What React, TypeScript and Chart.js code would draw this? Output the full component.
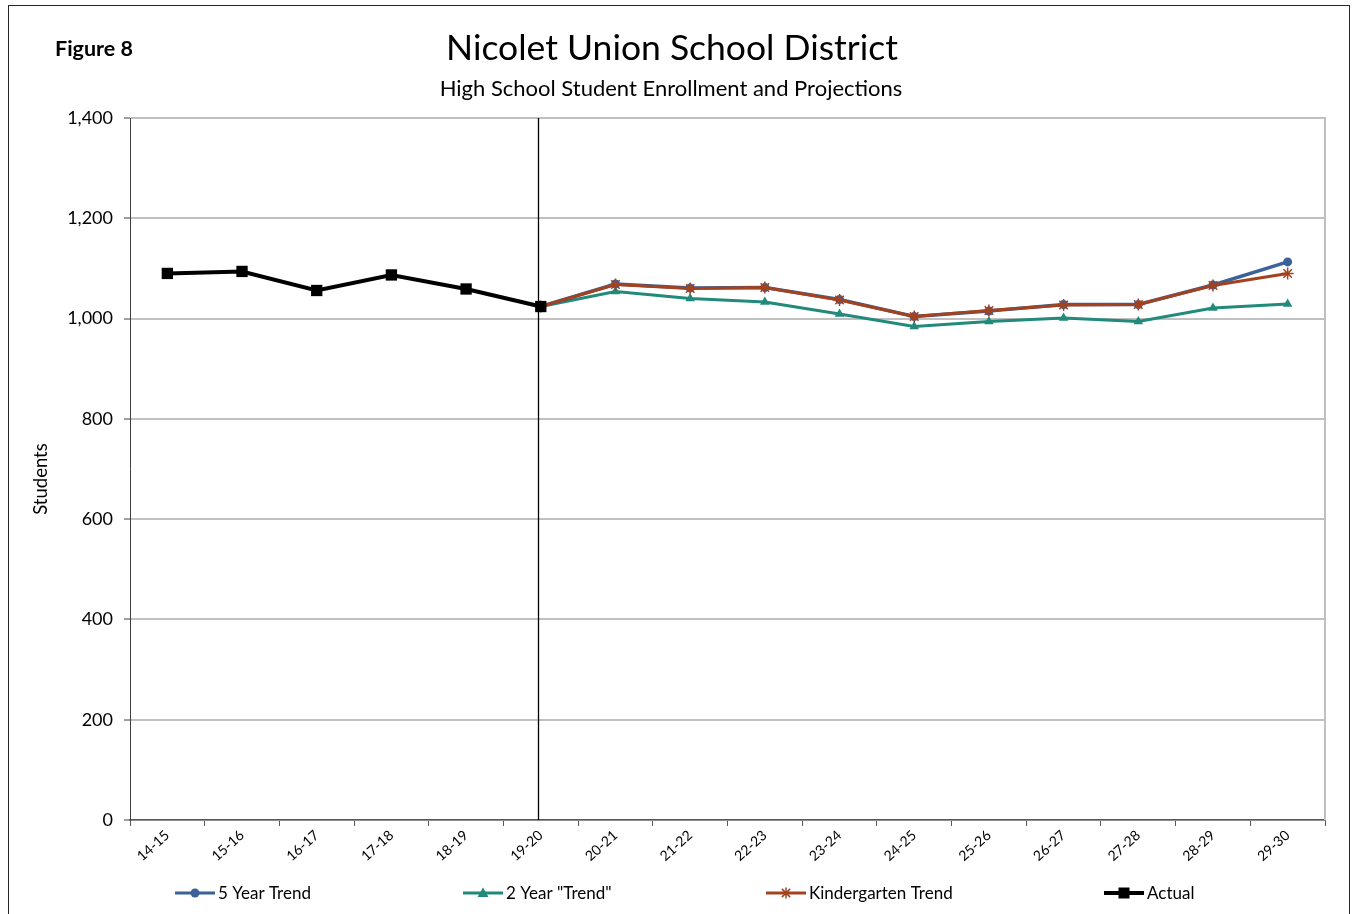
import React, { useEffect, useRef } from "react";
import { Chart, registerables } from "chart.js";

Chart.register(...registerables);

const categories = ["14-15", "15-16", "16-17", "17-18", "18-19", "19-20", "20-21", "21-22", "22-23", "23-24", "24-25", "25-26", "26-27", "27-28", "28-29", "29-30"];
const actual = [1090, 1094, 1056, 1087, 1059, 1024, null, null, null, null, null, null, null, null, null, null];
const fiveYearTrend = [null, null, null, null, null, 1024, 1069, 1061, 1062, 1038, 1004, 1015, 1028, 1028, 1067, 1113];
const twoYearTrend = [null, null, null, null, null, 1024, 1054, 1040, 1033, 1009, 984, 994, 1001, 994, 1021, 1029];
const kindergartenTrend = [null, null, null, null, null, 1024, 1068, 1060, 1062, 1037, 1004, 1016, 1027, 1028, 1066, 1090];
const yTicks = [0, 200, 400, 600, 800, 1000, 1200, 1400];

const FONT = "Lato, 'Open Sans', sans-serif";
const BLUE = "#3b6198";
const TEAL = "#228a7b";
const RUST = "#a3421f";
const BLACK = "#000000";

type LegendItem = { label: string; color: string; marker: string; width: number; x: number };
const legendItems: LegendItem[] = [
  { label: "5 Year Trend", color: BLUE, marker: "circle", width: 3, x: 175 },
  { label: '2 Year "Trend"', color: TEAL, marker: "triangle", width: 3, x: 463 },
  { label: "Kindergarten Trend", color: RUST, marker: "star", width: 3, x: 766 },
  { label: "Actual", color: BLACK, marker: "rect", width: 4, x: 1104 },
];

function drawMarker(ctx: CanvasRenderingContext2D, kind: string, x: number, y: number, color: string) {
  ctx.save();
  ctx.fillStyle = color;
  ctx.strokeStyle = color;
  ctx.beginPath();
  if (kind === "circle") {
    ctx.arc(x, y, 4.5, 0, Math.PI * 2);
    ctx.fill();
  } else if (kind === "triangle") {
    ctx.moveTo(x, y - 5.5);
    ctx.lineTo(x + 5.5, y + 4);
    ctx.lineTo(x - 5.5, y + 4);
    ctx.closePath();
    ctx.fill();
  } else if (kind === "rect") {
    ctx.rect(x - 5.5, y - 5.5, 11, 11);
    ctx.fill();
  } else if (kind === "star") {
    ctx.lineWidth = 1.5;
    const r = 5.5;
    ctx.moveTo(x - r, y);
    ctx.lineTo(x + r, y);
    ctx.moveTo(x, y - r);
    ctx.lineTo(x, y + r);
    const d = r * 0.75;
    ctx.moveTo(x - d, y - d);
    ctx.lineTo(x + d, y + d);
    ctx.moveTo(x - d, y + d);
    ctx.lineTo(x + d, y - d);
    ctx.stroke();
  }
  ctx.restore();
}

const decorPlugin = {
  id: "decor",
  beforeDraw(chart: any) {
    const ctx = chart.ctx as CanvasRenderingContext2D;
    ctx.save();
    ctx.fillStyle = "#ffffff";
    ctx.fillRect(0, 0, chart.width, chart.height);
    ctx.restore();
  },
  beforeDatasetsDraw(chart: any) {
    const ctx = chart.ctx as CanvasRenderingContext2D;
    const area = chart.chartArea;
    const x = chart.scales.x;
    ctx.save();
    ctx.strokeStyle = "#c0c0c0";
    ctx.lineWidth = 2;
    ctx.beginPath();
    ctx.moveTo(area.right, area.top - 1);
    ctx.lineTo(area.right, area.bottom);
    ctx.stroke();
    const px = Math.round(x.getPixelForValue(5)) - 3 + 0.5;
    ctx.strokeStyle = "#000000";
    ctx.lineWidth = 1.3;
    ctx.beginPath();
    ctx.moveTo(px, area.top);
    ctx.lineTo(px, area.bottom);
    ctx.stroke();
    ctx.restore();
  },
  afterDraw(chart: any) {
    const ctx = chart.ctx as CanvasRenderingContext2D;
    const area = chart.chartArea;
    ctx.save();
    ctx.strokeStyle = "#262626";
    ctx.lineWidth = 1;
    ctx.strokeRect(8.5, 5.5, 1341, 920);
    ctx.fillStyle = "#000000";
    ctx.textBaseline = "middle";
    ctx.textAlign = "left";
    ctx.font = `bold 21.5px ${FONT}`;
    ctx.fillText("Figure 8", 55, 49);
    ctx.textAlign = "center";
    ctx.font = `35.5px ${FONT}`;
    ctx.fillText("Nicolet Union School District", 672, 49);
    ctx.font = `22px ${FONT}`;
    ctx.fillText("High School Student Enrollment and Projections", 671, 89);
    ctx.save();
    ctx.translate(41, (area.top + area.bottom) / 2 + 10);
    ctx.rotate(-Math.PI / 2);
    ctx.font = `18.5px ${FONT}`;
    ctx.fillText("Students", 0, 0);
    ctx.restore();
    const ly = 893;
    for (const item of legendItems) {
      ctx.strokeStyle = item.color;
      ctx.lineWidth = item.width;
      ctx.beginPath();
      ctx.moveTo(item.x, ly);
      ctx.lineTo(item.x + 40, ly);
      ctx.stroke();
      drawMarker(ctx, item.marker, item.x + 20, ly, item.color);
      ctx.fillStyle = "#000000";
      ctx.textAlign = "left";
      ctx.font = `17px ${FONT}`;
      ctx.fillText(item.label, item.x + 43, ly + 1);
    }
    ctx.restore();
  },
};

export default function App() {
  const ref = useRef<HTMLCanvasElement | null>(null);
  useEffect(() => {
    if (!ref.current) return;
    const chart = new Chart(ref.current, {
      type: "line",
      data: {
        labels: categories,
        datasets: [
          {
            label: "Actual",
            data: actual,
            borderColor: BLACK,
            backgroundColor: BLACK,
            borderWidth: 4,
            pointStyle: "rect",
            pointRadius: 8,
            pointBorderWidth: 0,
            spanGaps: false,
          },
          {
            label: "Kindergarten Trend",
            data: kindergartenTrend,
            borderColor: RUST,
            backgroundColor: RUST,
            borderWidth: 3,
            pointStyle: "star",
            pointRadius: 6,
            pointBorderWidth: 1.5,
          },
          {
            label: "5 Year Trend",
            data: fiveYearTrend,
            borderColor: BLUE,
            backgroundColor: BLUE,
            borderWidth: 3.5,
            pointStyle: "circle",
            pointRadius: 4.5,
            pointBorderWidth: 0,
          },
          {
            label: '2 Year "Trend"',
            data: twoYearTrend,
            borderColor: TEAL,
            backgroundColor: TEAL,
            borderWidth: 3,
            pointStyle: "triangle",
            pointRadius: 5.5,
            pointBorderWidth: 0,
          },
        ],
      },
      options: {
        responsive: false,
        animation: false,
        devicePixelRatio: 1,
        layout: { padding: { left: 0, right: 28, top: 118, bottom: 44 } },
        plugins: {
          legend: { display: false },
          title: { display: false },
          tooltip: { enabled: false },
        },
        elements: { line: { tension: 0 } },
        scales: {
          x: {
            type: "category",
            offset: true,
            grid: {
              display: true,
              drawOnChartArea: false,
              drawTicks: true,
              tickLength: 6,
              tickColor: "#595959",
              offset: true,
            },
            border: { display: true, color: "#595959", width: 1.5 },
            ticks: {
              autoSkip: false,
              minRotation: 42,
              maxRotation: 42,
              padding: 1,
              color: "#000000",
              font: { family: FONT, size: 14 },
            },
            afterFit: (s: any) => {
              s.height = 50;
            },
          },
          y: {
            min: 0,
            max: 1400,
            afterBuildTicks: (s: any) => {
              s.ticks = yTicks.map((v) => ({ value: v }));
            },
            grid: {
              color: "#c0c0c0",
              lineWidth: 2,
              drawTicks: true,
              tickLength: 6,
              tickColor: "#404040",
              tickWidth: 1,
            },
            border: { display: true, color: "#404040", width: 1 },
            ticks: {
              padding: 11,
              color: "#000000",
              font: { family: FONT, size: 18 },
              callback: (v: any) => Number(v).toLocaleString("en-US"),
            },
            afterFit: (s: any) => {
              s.width = 130;
            },
          },
        },
      },
      plugins: [decorPlugin],
    });
    return () => chart.destroy();
  }, []);
  return (
    <div style={{ position: "absolute", left: 0, top: 0, width: 1353, height: 914, overflow: "hidden" }}>
      <canvas ref={ref} width={1353} height={914} style={{ width: 1353, height: 914, display: "block" }} />
    </div>
  );
}
